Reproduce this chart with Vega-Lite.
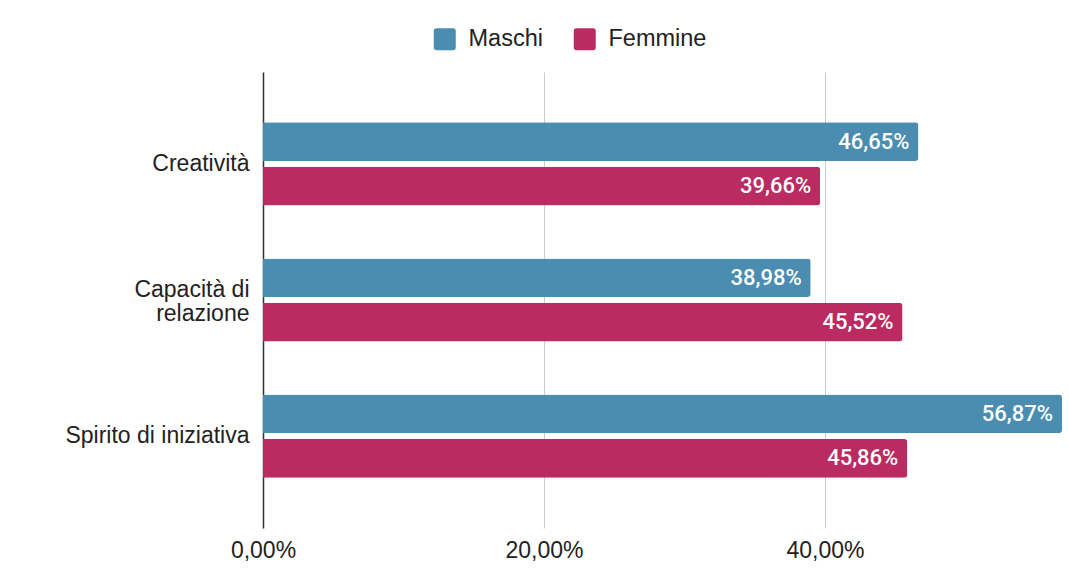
{
  "$schema": "https://vega.github.io/schema/vega-lite/v6.json",
  "autosize": {"type": "none"},
  "width": 799,
  "height": 456,
  "padding": {"left": 263, "top": 72, "right": 7, "bottom": 54},
  "background": "white",
  "config": {
    "view": {"stroke": null},
    "locale": {"number": {"decimal": ",", "thousands": ".", "grouping": [3], "currency": ["€", ""]}}
  },
  "data": {"values": [
    {"categoria": "Creatività", "sesso": "Maschi", "valore": 0.4665},
    {"categoria": "Creatività", "sesso": "Femmine", "valore": 0.3966},
    {"categoria": "Capacità di relazione", "sesso": "Maschi", "valore": 0.3898},
    {"categoria": "Capacità di relazione", "sesso": "Femmine", "valore": 0.4552},
    {"categoria": "Spirito di iniziativa", "sesso": "Maschi", "valore": 0.5687},
    {"categoria": "Spirito di iniziativa", "sesso": "Femmine", "valore": 0.4586}
  ]},
  "encoding": {
    "y": {
      "field": "categoria", "type": "nominal",
      "sort": ["Creatività", "Capacità di relazione", "Spirito di iniziativa"],
      "scale": {"paddingInner": 0.39, "paddingOuter": 0.37},
      "axis": {
        "title": null, "ticks": false, "domain": true, "domainColor": "#333333", "domainWidth": 1.5,
        "labelFont": "Liberation Sans", "labelFontSize": 23, "labelColor": "#222222",
        "labelPadding": 14, "labelLineHeight": 24, "labelLimit": 400,
        "labelOffset": {"condition": {"test": "datum.value == 'Capacità di relazione'", "value": -10}, "value": 0},
        "labelExpr": "datum.value == 'Capacità di relazione' ? ['Capacità di', 'relazione'] : datum.value"
      }
    },
    "yOffset": {
      "field": "sesso", "type": "nominal", "sort": ["Maschi", "Femmine"],
      "scale": {"paddingInner": 0.13}
    },
    "x": {
      "field": "valore", "type": "quantitative",
      "scale": {"domain": [0, 0.5687], "nice": false, "zero": true},
      "axis": {
        "title": null, "values": [0, 0.2, 0.4], "format": ".2%", "domain": false,
        "ticks": false, "grid": true, "gridColor": "#cccccc", "labelFlush": false,
        "labelFont": "Liberation Sans", "labelFontSize": 23, "labelColor": "#222222",
        "labelPadding": 11
      }
    }
  },
  "layer": [
    {
      "mark": {"type": "bar", "cornerRadiusEnd": 3},
      "encoding": {
        "color": {
          "field": "sesso", "type": "nominal",
          "sort": ["Maschi", "Femmine"],
          "scale": {"domain": ["Maschi", "Femmine"], "range": ["#4A8DB0", "#B92B61"]},
          "legend": {
            "title": null, "orient": "none", "direction": "horizontal",
            "legendX": 170, "legendY": -45,
            "symbolType": "M -0.75,-1 L 0.75,-1 Q 1,-1 1,-0.75 L 1,0.75 Q 1,1 0.75,1 L -0.75,1 Q -1,1 -1,0.75 L -1,-0.75 Q -1,-1 -0.75,-1 Z",
            "symbolSize": 484, "symbolStrokeWidth": 0, "symbolOpacity": 1,
            "labelFont": "Liberation Sans", "labelFontSize": 23.5, "labelColor": "#222222",
            "labelOffset": 12, "columnPadding": 30
          }
        }
      }
    },
    {
      "mark": {"type": "text", "align": "right", "baseline": "middle", "dx": -9, "color": "white", "font": "Roboto", "fontSize": 22, "fontWeight": 500},
      "encoding": {
        "text": {"field": "valore", "type": "quantitative", "format": ".2%"}
      }
    }
  ]
}
